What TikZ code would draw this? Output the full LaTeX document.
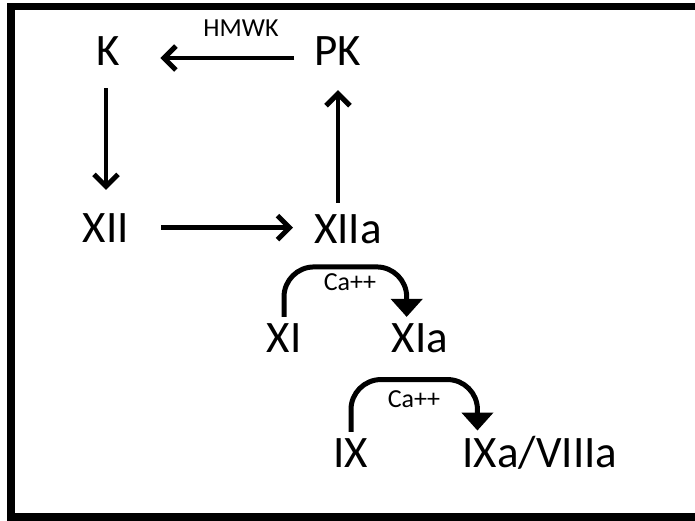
\documentclass[tikz,border=0pt]{standalone}
\usepackage{fontspec}
\setmainfont{Carlito}
\usetikzlibrary{arrows.meta}
\begin{document}
\begin{tikzpicture}[x=1pt,y=-1pt,
  big/.style={font=\fontsize{45}{50}\selectfont, inner sep=0pt, anchor=base},
  small/.style={font=\fontsize{26}{30}\selectfont, inner sep=0pt, anchor=base},
  arr/.style={line width=4.5pt, -{Straight Barb[length=12pt,width=24pt,line width=5pt]}},
  carr/.style={line width=5pt, rounded corners=30pt, -{Triangle[length=18pt,width=31pt]}}]
\useasboundingbox (0,0) rectangle (695,521);
\clip (0,0) rectangle (695,521);
\fill[white] (0,0) rectangle (695,521);
\draw[line width=7.5pt] (11,6.5) rectangle (720,517);
% nodes
\node[big] (K) at (108.5,66) {K};
\node[big] (PK) at (338,66) {PK};
\node[big] (XII) at (106,242) {XII};
\node[big] (XIIa) at (348,243) {XIIa};
\node[big] (XI) at (284,352) {XI};
\node[big] (XIa) at (420,352) {XIa};
\node[big] (IX) at (351,467) {IX};
\node[big] (IXa) at (540,467) {IXa/VIIIa};
\node[small] (hmwk) at (241,37) {HMWK};
\node[small] (ca1) at (350,290) {Ca++};
\node[small] (ca2) at (414,407) {Ca++};
% straight arrows
\draw[arr, shorten <=20pt, shorten >=40pt] ([yshift=-6.5pt]PK.west) -- ([yshift=-6.5pt]K.east);
\draw[arr, shorten <=22pt, shorten >=23pt] (K.south -| XII.north) -- (XII.north);
\draw[arr, shorten <=32pt, shorten >=21pt] (XII.east) -- (XII.east -| XIIa.west);
\draw[arr, shorten <=11pt, shorten >=24pt] (XIIa.north -| PK.south) -- (PK.south);
% curved arrows
\coordinate (s1) at ([yshift=6pt]XI.north);
\coordinate (t1) at ([xshift=15pt,yshift=6pt]XIa.north west);
\draw[carr] (s1) |- ([yshift=50pt]t1) -- (t1);
\coordinate (s2) at ([yshift=6pt]IX.north);
\coordinate (t2) at ([xshift=15pt,yshift=5pt]IXa.north west);
\draw[carr] (s2) |- ([yshift=51pt]t2) -- (t2);
\end{tikzpicture}
\end{document}
